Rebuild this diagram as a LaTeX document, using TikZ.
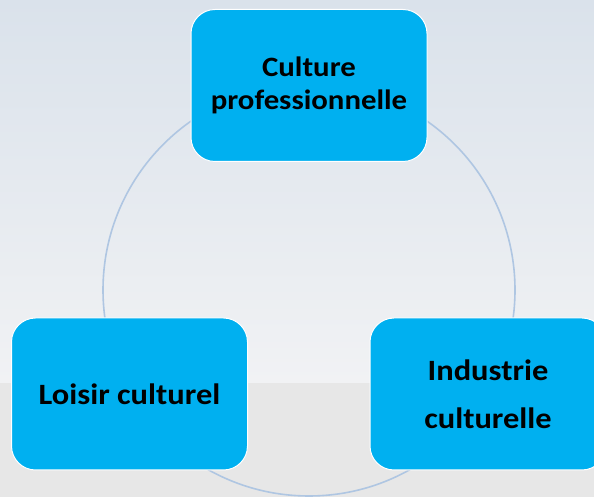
\documentclass[tikz,border=0pt]{standalone}
\usepackage{fontspec}
\setmainfont[FakeStretch=1.1]{Carlito}
\usepackage{tikz}
\usetikzlibrary{positioning}

\definecolor{boxblue}{HTML}{00B0F0}
\definecolor{ringblue}{HTML}{AFC6E2}
\definecolor{skytop}{HTML}{DAE2EB}
\definecolor{skylow}{HTML}{F1F2F4}
\definecolor{floorgray}{HTML}{E7E7E7}

\tikzset{
  culturebox/.style={draw=white, line width=1pt, fill=boxblue, rounded corners=24pt,
    minimum width=236pt, minimum height=152pt, align=center,
    font=\fontsize{28}{33}\selectfont\bfseries, text=black},
}

\begin{document}
\begin{tikzpicture}[x=1pt, y=1pt]
				\def\W{594};
				\def\H{497};
				\def\floor{114};

				\useasboundingbox (0,0) rectangle (\W,\H);
				\clip (0,0) rectangle (\W,\H);

				% background
				\begin{scope}
					\shade [top color=skytop, bottom color=skylow] (0,\floor) rectangle (\W,\H);
					\fill [floorgray] (0,0) rectangle (\W,\floor);
				\end{scope}

				% ring
				\coordinate (centre) at (309,207);
				\draw [ringblue, line width=1.6pt] (centre) circle (206);

				% boxes
				\node [culturebox] (prof) at (309,411.5) {Culture\\professionnelle};
				\node [culturebox, font=\fontsize{29.5}{33}\selectfont\bfseries] (loisir) at (129.5,103) {Loisir culturel};
				\node [culturebox, font=\fontsize{29.5}{48}\selectfont\bfseries] (industrie) at (488,103) {Industrie\\culturelle};
			\end{tikzpicture}
\end{document}
